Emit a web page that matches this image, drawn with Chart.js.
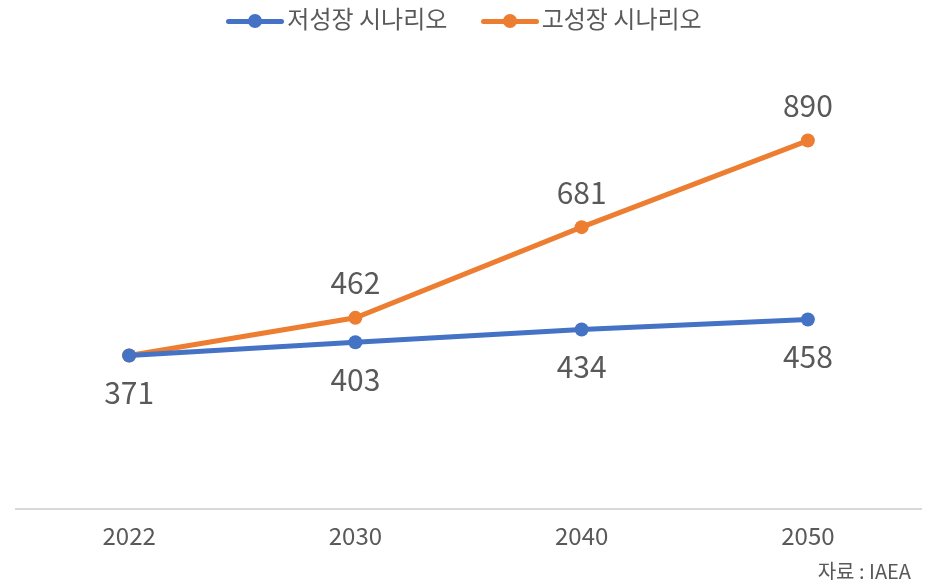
<!DOCTYPE html>
<html>
<head>
<meta charset="utf-8">
<script src="https://cdn.jsdelivr.net/npm/chart.js@4"></script>
<style>
  html, body { margin: 0; padding: 0; background: #fff; }
  #wrap { position: relative; width: 928px; height: 580px; font-family: "Noto Sans CJK KR", "Noto Sans", sans-serif; color: #595959; }
  #legend { position: absolute; top: -4px; left: 0; width: 928px; text-align: center; font-size: 24px; white-space: nowrap; }
  .item { display: inline-block; margin: 0 14px; vertical-align: middle; }
  .sym { display: inline-block; position: relative; width: 58px; height: 14px; vertical-align: middle; margin-right: 3px; }
  .sym .ln { position: absolute; left: 0; right: 0; top: 5px; height: 5px; border-radius: 3px; }
  .sym .dot { position: absolute; left: 22px; top: 0; width: 14px; height: 14px; border-radius: 50%; }
  #source { position: absolute; right: 17px; top: 556px; font-size: 20px; }
  canvas { position: absolute; left: 0; top: 0; }
</style>
</head>
<body>
<div id="wrap">
  <canvas id="chart" width="928" height="580"></canvas>
  <div id="legend"></div>
  <div id="source">자료 : IAEA</div>
</div>
<script>
// categories and series
const years = ["2022", "2030", "2040", "2050"];
const lowGrowth = [371, 403, 434, 458];
const highGrowth = [371, 462, 681, 890];
const seriesNames = ["저성장 시나리오", "고성장 시나리오"];
const colors = ["#4472C4", "#ED7D31"];

// labels: blue below every point, orange above (skipping 2022 where both meet)
const labelPlugin = {
    id: "pointLabels",
    afterDatasetsDraw(chart) {
        const ctx = chart.ctx;
        ctx.save();
        ctx.font = '30px "Noto Sans CJK KR", sans-serif';
        ctx.fillStyle = "#595959";
        ctx.textAlign = "center";
        ctx.textBaseline = "middle";
        chart.data.datasets.forEach((ds, i) => {
            const meta = chart.getDatasetMeta(i);
            meta.data.forEach((pt, j) => {
                if (i === 1 && j === 0) return;
                const dy = i === 0 ? 37 : -35;
                ctx.fillText(String(ds.data[j]), pt.x, pt.y + dy);
            });
        });
        ctx.restore();
    }
};

function buildLegend() {
    const el = document.getElementById("legend");
    el.innerHTML = seriesNames.map((name, i) => `
        <span class="item">
            <span class="sym"><span class="ln" style="background:${colors[i]}"></span><span class="dot" style="background:${colors[i]}"></span></span>${name}
        </span>`).join("");
}

buildLegend();

new Chart(document.getElementById("chart"), {
    type: "line",
    data: {
        labels: years,
        datasets: [
            {
                label: seriesNames[0],
                data: lowGrowth,
                borderColor: colors[0],
                backgroundColor: colors[0],
                borderWidth: 5,
                pointRadius: 7,
                pointBorderWidth: 0,
                tension: 0
            },
            {
                label: seriesNames[1],
                data: highGrowth,
                borderColor: colors[1],
                backgroundColor: colors[1],
                borderWidth: 5,
                pointRadius: 7,
                pointBorderWidth: 0,
                tension: 0
            }
        ]
    },
    options: {
        responsive: false,
        animation: false,
        layout: { padding: { top: 95, left: 16, right: 7, bottom: 18 } },
        plugins: { legend: { display: false }, tooltip: { enabled: false } },
        scales: {
            x: {
                offset: true,
                grid: { display: false, drawTicks: false },
                border: { color: "#d9d9d9", width: 2 },
                ticks: { color: "#595959", font: { size: 24, family: '"Noto Sans CJK KR", sans-serif' }, padding: 12 }
            },
            y: {
                display: false,
                min: 0,
                max: 1000
            }
        }
    },
    plugins: [labelPlugin]
});
</script>
</body>
</html>
